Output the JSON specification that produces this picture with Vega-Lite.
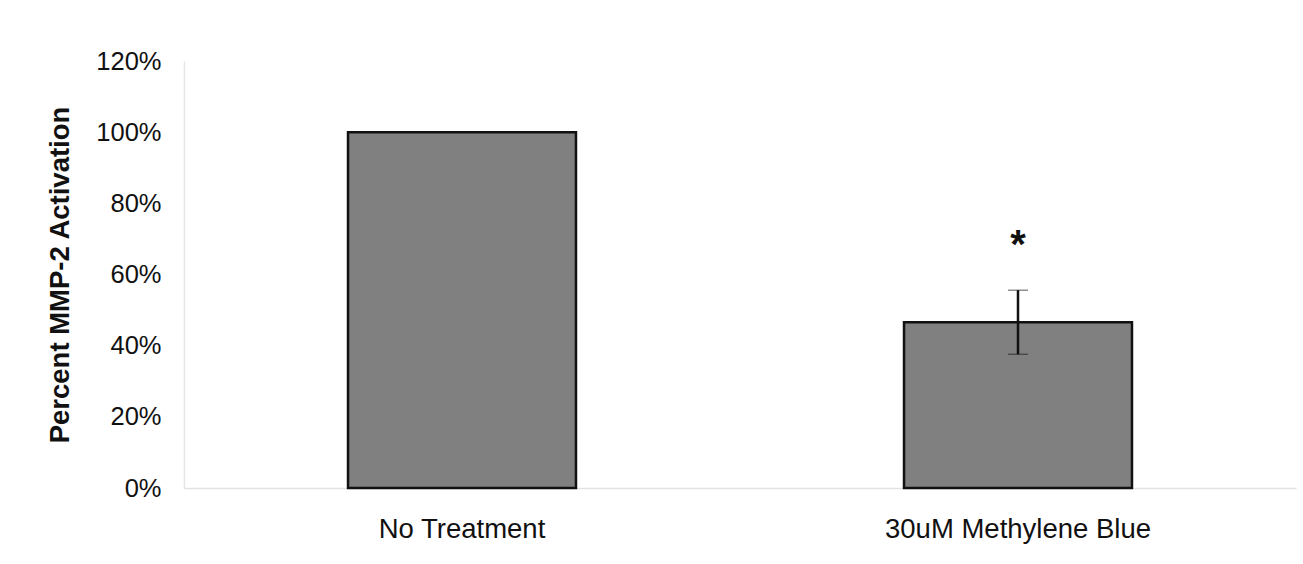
{
  "$schema": "https://vega.github.io/schema/vega-lite/v6.json",
  "width": 1112,
  "height": 427,
  "autosize": {"type": "none"},
  "padding": {"left": 184, "top": 61, "right": 7, "bottom": 76},
  "background": "white",
  "config": {
    "view": {"stroke": null},
    "font": "Liberation Sans"
  },
  "data": {
    "values": [
      {"treatment": "No Treatment", "activation": 100, "lo": null, "hi": null, "sig": ""},
      {"treatment": "30uM Methylene Blue", "activation": 46.6, "lo": 37.6, "hi": 55.6, "sig": "*"}
    ]
  },
  "encoding": {
    "x": {
      "field": "treatment",
      "type": "nominal",
      "sort": null,
      "scale": {"paddingInner": 0.59, "paddingOuter": 0.295},
      "axis": {
        "title": null,
        "labelAngle": 0,
        "labelFontSize": 27.5,
        "labelLimit": 0,
        "labelColor": "#111",
        "labelPadding": 27,
        "ticks": false,
        "domainColor": "#e2e2e2",
        "domainWidth": 1.5
      }
    }
  },
  "layer": [
    {
      "mark": {"type": "bar", "color": "#808080", "stroke": "#111", "strokeWidth": 2.5},
      "encoding": {
        "y": {
          "field": "activation",
          "type": "quantitative",
          "title": "Percent MMP-2 Activation",
          "scale": {"domain": [0, 120]},
          "axis": {
            "titleFontSize": 27.5,
            "titleFontWeight": "bold",
            "titleColor": "#111",
            "titlePadding": 21,
            "values": [0, 20, 40, 60, 80, 100, 120],
            "labelExpr": "datum.value + '%'",
            "labelFontSize": 25.5,
            "labelColor": "#111",
            "labelPadding": 23,
            "ticks": false,
            "grid": false,
            "domainColor": "#e6e6e6",
            "domainWidth": 1.5
          }
        }
      }
    },
    {
      "transform": [{"filter": "datum.lo != null"}],
      "mark": {"type": "errorbar", "ticks": {"size": 20, "color": "#111", "strokeWidth": 2.5}, "rule": {"color": "#111", "strokeWidth": 2.5}},
      "encoding": {
        "y": {"field": "lo", "type": "quantitative", "title": "Percent MMP-2 Activation"},
        "y2": {"field": "hi"}
      }
    },
    {
      "transform": [{"filter": "datum.sig != ''"}],
      "mark": {"type": "text", "fontSize": 40, "fontWeight": "bold", "color": "#111", "baseline": "middle", "dy": -44},
      "encoding": {
        "y": {"field": "hi", "type": "quantitative", "title": "Percent MMP-2 Activation"},
        "text": {"field": "sig"}
      }
    }
  ]
}
